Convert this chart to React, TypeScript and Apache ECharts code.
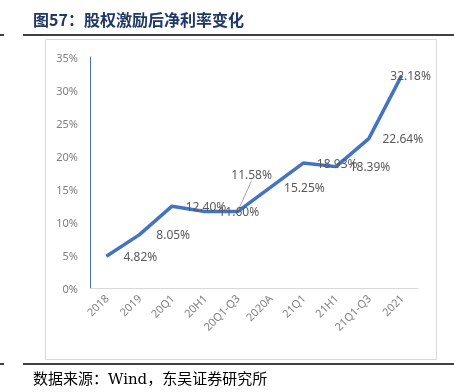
import React, { useEffect, useRef } from "react";
import * as echarts from "echarts";

const categories = ["2018", "2019", "20Q1", "20H1", "20Q1-Q3", "2020A", "21Q1", "21H1", "21Q1-Q3", "2021"];
const netMargin = [4.82, 8.05, 12.4, 11.6, 11.58, 15.25, 18.93, 18.39, 22.64, 32.18];
const yTicks = { min: 0, max: 35, interval: 5 };
const titleText = "图57：股权激励后净利率变化";
const sourceText = "数据来源：Wind，东吴证券研究所";

export default function App() {
  const ref = useRef<HTMLDivElement>(null);
  useEffect(() => {
    if (!ref.current) return;
    const chart = echarts.init(ref.current, undefined, { renderer: "svg" });
    const data = netMargin.map((v, i) => {
      const item: any = { value: v };
      if (i === 4) {
        item.labelLine = { show: true, lineStyle: { color: "#a6a6a6", width: 1 } };
      }
      return item;
    });
    chart.setOption({
      animation: false,
      grid: { left: 90, right: 36, top: 57, bottom: 104 },
      graphic: [
        {
          type: "text",
          left: 33,
          top: 11,
          style: {
            text: titleText,
            font: "bold 16px 'Noto Sans CJK SC'",
            fill: "#1f3864",
          },
        },
        { type: "line", shape: { x1: 0, y1: 35, x2: 4, y2: 35 }, style: { stroke: "#000", lineWidth: 1.5 } },
        { type: "line", shape: { x1: 23, y1: 35, x2: 454, y2: 35 }, style: { stroke: "#000", lineWidth: 1.5 } },
        { type: "line", shape: { x1: 0, y1: 364, x2: 4, y2: 364 }, style: { stroke: "#000", lineWidth: 1.5 } },
        { type: "line", shape: { x1: 23, y1: 364, x2: 454, y2: 364 }, style: { stroke: "#000", lineWidth: 1.5 } },
        {
          type: "rect",
          shape: { x: 45.5, y: 39.5, width: 391, height: 320 },
          style: { fill: "none", stroke: "#d9d9d9", lineWidth: 1 },
          z: -1,
        },
        {
          type: "text",
          left: 33,
          top: 371,
          style: {
            text: sourceText,
            font: "15px 'DejaVu Serif', 'Noto Sans CJK SC', serif",
            fill: "#000",
          },
        },
      ],
      xAxis: {
        type: "category",
        data: categories,
        boundaryGap: true,
        axisLine: { lineStyle: { color: "#d9d9d9", width: 1 } },
        axisTick: { show: false },
        axisLabel: {
          rotate: 45,
          color: "#7f7f7f",
          fontSize: 11,
          fontFamily: "Noto Sans",
          margin: 8,
          interval: 0,
        },
      },
      yAxis: {
        type: "value",
        min: yTicks.min,
        max: yTicks.max,
        interval: yTicks.interval,
        axisLine: { show: true, lineStyle: { color: "#4472c4", width: 1 } },
        axisTick: { show: false },
        splitLine: { show: false },
        axisLabel: {
          formatter: "{value}%",
          color: "#7f7f7f",
          fontSize: 11,
          fontFamily: "Noto Sans",
          margin: 12,
        },
      },
      series: [
        {
          type: "line",
          data,
          symbol: "circle",
          symbolSize: 2,
          showSymbol: true,
          itemStyle: { color: "rgba(0,0,0,0)" },
          lineStyle: { color: "#4472c4", width: 3.5 },
          label: {
            show: true,
            position: "inside",
            formatter: (p: any) => p.value.toFixed(2) + "%",
            color: "#595959",
            fontSize: 12,
            fontFamily: "Noto Sans",
          },
          labelLine: { show: false },
          labelLayout: (p: any) => {
            if (p.dataIndex === 4) return { dx: 14, dy: -37 };
            if (p.dataIndex === 9) return { dx: 9, dy: 0 };
            return { dx: 34, dy: 0 };
          },
        },
      ],
    });
    return () => chart.dispose();
  }, []);
  return <div ref={ref} style={{ position: "fixed", left: 0, top: 0, width: 454, height: 392 }} />;
}
